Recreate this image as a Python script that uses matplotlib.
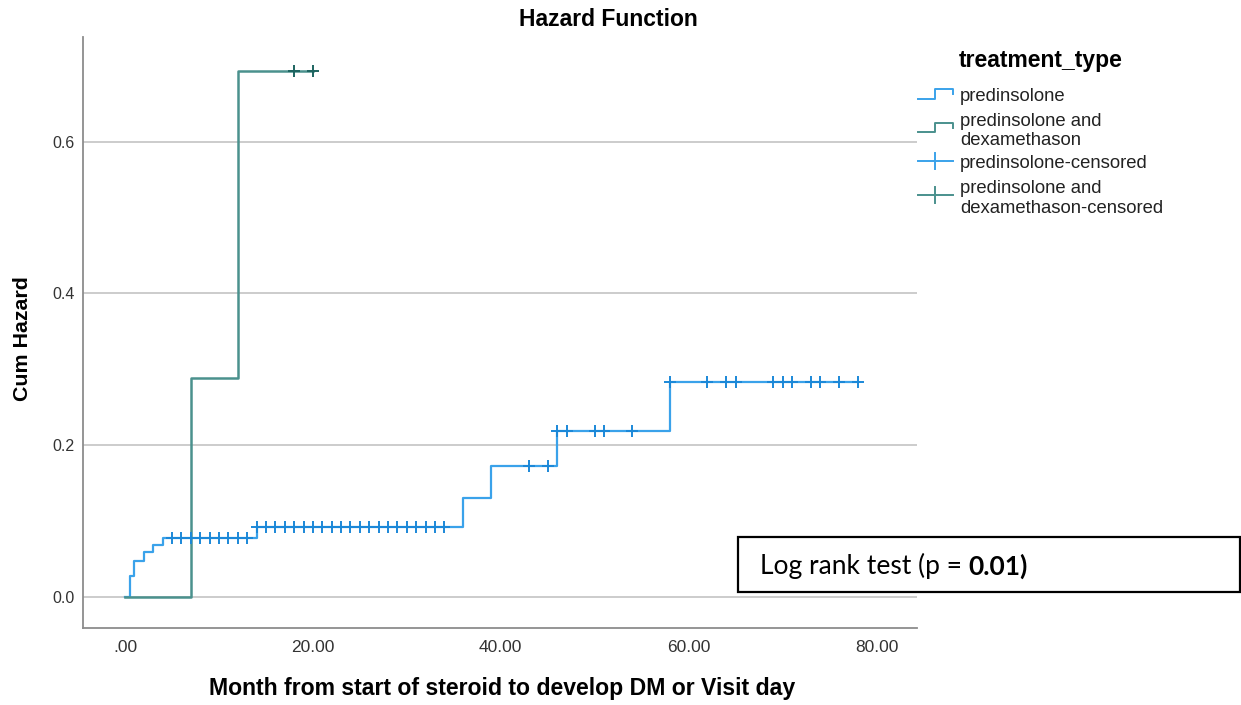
import numpy as np
import matplotlib
matplotlib.use("Agg")
import matplotlib.pyplot as plt
from matplotlib.lines import Line2D
from matplotlib.patches import Rectangle

# ---------------- data ----------------
pred_times = [0, 0.5, 1, 2, 3, 4, 14, 36, 39, 46, 58]
pred_hazard = [0.0, 0.028, 0.047, 0.059, 0.068, 0.077, 0.092, 0.131, 0.172, 0.219, 0.283]
pred_censored = [5, 6, 7, 8, 9, 10, 11, 12, 13,
                 14, 15, 16, 17, 18, 19, 20, 21, 22, 23, 24, 25, 26, 27, 28, 29, 30,
                 31, 32, 33, 34, 43, 45, 46, 47, 50, 51, 54,
                 58, 62, 64, 65, 69, 70, 71, 73, 74, 76, 78]

dexa_times = [0, 7, 12]
dexa_hazard = [0.0, 0.288, 0.693]
dexa_censored = [18, 20]

x_ticks = [0, 20, 40, 60, 80]
x_ticklabels = [".00", "20.00", "40.00", "60.00", "80.00"]
y_ticks = [0.0, 0.2, 0.4, 0.6]
y_ticklabels = ["0.0", "0.2", "0.4", "0.6"]

series_names = ["predinsolone", "predinsolone and\ndexamethason",
                "predinsolone-censored", "predinsolone and\ndexamethason-censored"]

BLUE = "#3aa2ea"
BLUE_M = "#1b88d8"
GREEN = "#4a918d"
GREEN_M = "#1d6460"

W, H = 1241, 705
fig = plt.figure(figsize=(W / 100, H / 100), dpi=100)

def fx(px):
    return px / W

def fy(py):
    return 1 - py / H

ARIAL = ["Liberation Sans", "DejaVu Sans"]

ax = fig.add_axes([fx(83), fy(628), fx(917) - fx(83), fy(37) - fy(628)])
ax.set_xlim(-4.47, 84.3)
ax.set_ylim(-0.041, 0.738)

for s in ["top", "right"]:
    ax.spines[s].set_visible(False)
for s in ["left", "bottom"]:
    ax.spines[s].set_color("#8c8c8c")
    ax.spines[s].set_linewidth(1.3)

ax.set_yticks(y_ticks)
ax.set_yticklabels(y_ticklabels, fontfamily=ARIAL, fontsize=11.5, color="#333333")
ax.set_xticks(x_ticks)
ax.set_xticklabels(x_ticklabels, fontfamily=ARIAL, fontsize=12.5, color="#333333")
ax.tick_params(axis="both", length=0)
ax.tick_params(axis="y", pad=6)
ax.tick_params(axis="x", pad=9)
ax.grid(axis="y", color="#c8c8c8", linewidth=1.3)
ax.set_axisbelow(True)


def step_lookup(times, haz, t):
    idx = np.searchsorted(np.asarray(times), np.asarray(t), side="right") - 1
    return np.asarray(haz)[idx]

# predinsolone curve
pt = list(pred_times) + [max(pred_censored)]
ph = list(pred_hazard) + [pred_hazard[-1]]
ax.step(pt, ph, where="post", color=BLUE, linewidth=1.6, zorder=3)
ax.plot(pred_censored, step_lookup(pred_times, pred_hazard, pred_censored),
        linestyle="none", marker="+", markersize=9, markeredgewidth=1.4,
        color=BLUE_M, zorder=4)

# predinsolone and dexamethason curve
dt = list(dexa_times) + [max(dexa_censored)]
dh = list(dexa_hazard) + [dexa_hazard[-1]]
ax.step(dt, dh, where="post", color=GREEN, linewidth=1.8, zorder=3)
ax.plot(dexa_censored, step_lookup(dexa_times, dexa_hazard, dexa_censored),
        linestyle="none", marker="+", markersize=9, markeredgewidth=1.4,
        color=GREEN_M, zorder=4)

# titles and labels
fig.text(fx(608), fy(19), "Hazard Function", ha="center", va="center",
         fontfamily=ARIAL, fontweight="bold", fontsize=16.5)
fig.text(fx(502), fy(689), "Month from start of steroid to develop DM or Visit day",
         ha="center", va="center", fontfamily=ARIAL, fontweight="bold", fontsize=16.6)
fig.text(fx(22), fy(339), "Cum Hazard", ha="center", va="center", rotation=90,
         fontfamily=ARIAL, fontweight="bold", fontsize=15.4)

# legend (drawn manually)
fig.text(fx(959), fy(60), "treatment_type", ha="left", va="center",
         fontfamily=ARIAL, fontweight="bold", fontsize=16.5)

def add_line(xs, ys, color, lw=1.4):
    fig.add_artist(Line2D([fx(x) for x in xs], [fy(y) for y in ys],
                          transform=fig.transFigure, color=color, linewidth=lw))

def step_handle(y_low, y_high, color):
    add_line([918, 935, 935, 953, 953], [y_low, y_low, y_high, y_high, (y_low + y_high) / 2], color)

def plus_handle(yc, color):
    add_line([918, 953], [yc, yc], color)
    add_line([935, 935], [yc - 8, yc + 8], color)

step_handle(98.5, 88.5, BLUE)
step_handle(132, 123, GREEN)
plus_handle(161, BLUE)
plus_handle(195, GREEN)

label_y = [96.5, 131, 164, 198.5]
for name, yy in zip(series_names, label_y):
    fig.text(fx(960), fy(yy), name, ha="left", va="center",
             fontfamily=ARIAL, fontsize=13.3, color="#222222", linespacing=1.2)

# Log rank box
fig.add_artist(Rectangle((fx(738), fy(592)), fx(1240) - fx(738), fy(537) - fy(592),
                         transform=fig.transFigure, fill=False, edgecolor="black",
                         linewidth=1.6))
LR_FONT = ["Lato", "DejaVu Sans"]
t1 = fig.text(fx(760), fy(566), "Log rank test (p = ", ha="left", va="center",
              fontfamily=LR_FONT, fontsize=19)
fig.canvas.draw()
bb = t1.get_window_extent()
fig.text(bb.x1 / W, fy(566), "0.01)", ha="left", va="center",
         fontfamily=LR_FONT, fontsize=19, fontweight="bold")

fig.savefig("out.png", dpi=100)
